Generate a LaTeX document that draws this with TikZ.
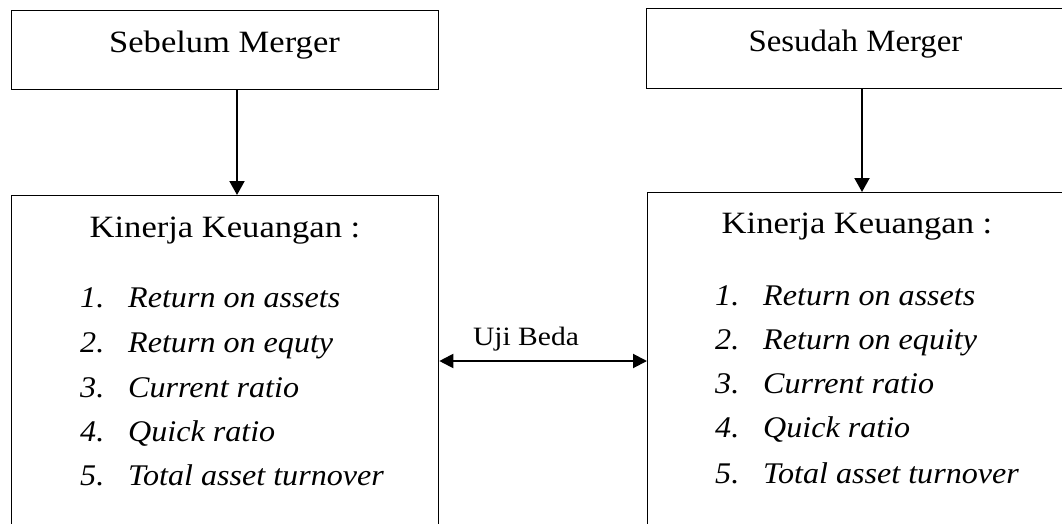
\documentclass[tikz,border=0pt]{standalone}
\usepackage{fontspec}
\newfontfamily\pal[FakeStretch=1.115]{Liberation Serif}
\newfontfamily\palit[FakeStretch=1.07]{Liberation Serif}
\newfontfamily\tms[FakeStretch=1.06]{Liberation Serif}
\usetikzlibrary{arrows.meta}
\begin{document}
\begin{tikzpicture}[x=1pt,y=1pt,
 box/.style={draw, line width=1.3pt, inner sep=0, anchor=north west},
 arr/.style={line width=2pt, -{Triangle[length=14pt,width=15pt]}},
 darr/.style={line width=2pt, {Triangle[length=14pt,width=14pt]}-{Triangle[length=14pt,width=14pt]}},
 lbl/.style={anchor=base, inner sep=0, font=\pal\fontsize{31}{36}\selectfont},
 item/.style={anchor=base west, inner sep=0, font=\palit\itshape\fontsize{30}{35}\selectfont}]
\useasboundingbox (0,0) rectangle (1062,-524);
\clip (0,0) rectangle (1062,-524);
\node[box, minimum width=427pt, minimum height=79pt] (lt) at (11,-10) {};
\node[box, minimum width=432pt, minimum height=80pt] (rt) at (646,-8) {};
\node[box, minimum width=427pt, minimum height=360pt] (lb) at (11,-195) {};
\node[box, minimum width=432pt, minimum height=360pt] (rb) at (647,-192) {};
\node[lbl] (ltx) at (224.5,-53) {Sebelum Merger};
\node[lbl, font=\tms\fontsize{31}{36}\selectfont] (rtx) at (855.5,-52) {Sesudah Merger};
\node[lbl] (lbx) at (225,-237) {Kinerja Keuangan :};
\node[lbl] (rbx) at (857,-233) {Kinerja Keuangan :};
\foreach \i/\t/\y in {1/Return on assets/307, 2/Return on equty/352, 3/Current ratio/397, 4/Quick ratio/441, 5/Total asset turnover/485}{
  \node[item] (ln\i) at (80,-\y) {\i.};
  \node[item] (li\i) at (128,-\y) {\t};
}
\foreach \i/\t/\y in {1/Return on assets/305, 2/Return on equity/349, 3/Current ratio/393, 4/Quick ratio/437, 5/Total asset turnover/483}{
  \node[item] (rn\i) at (715,-\y) {\i.};
  \node[item] (ri\i) at (763,-\y) {\t};
}
\coordinate (xl) at (237,0);
\coordinate (xr) at (862,0);
\coordinate (ym) at (0,-361);
\draw[arr] (lt.south -| xl) -- (lb.north -| xl);
\draw[arr] (rt.south -| xr) -- (rb.north -| xr);
\draw[darr] (lb.east |- ym) -- (rb.west |- ym);
\node[lbl, font=\pal\fontsize{26.5}{30}\selectfont] (uji) at (526,-345) {Uji Beda};
\end{tikzpicture}
\end{document}
